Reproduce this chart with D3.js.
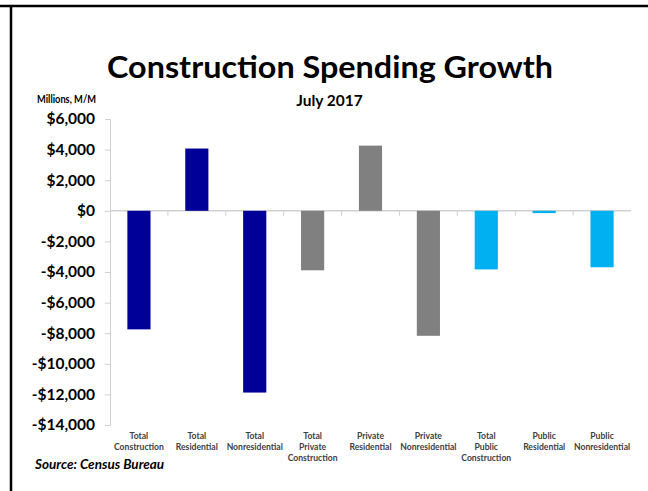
<!DOCTYPE html>
<html><head><meta charset="utf-8">
<script src="https://cdn.jsdelivr.net/npm/d3@7"></script>
<style>body{margin:0;background:#fff}svg{display:block}</style>
</head><body>
<script>
const categories = [
  ["Total","Construction"],
  ["Total","Residential"],
  ["Total","Nonresidential"],
  ["Total","Private","Construction"],
  ["Private","Residential"],
  ["Private","Nonresidential"],
  ["Total","Public","Construction"],
  ["Public","Residential"],
  ["Public","Nonresidential"]
];
const values = [-7750, 4070, -11880, -3890, 4260, -8170, -3830, -150, -3690];
const groups = ["total","total","total","private","private","private","public","public","public"];
const groupColors = {total:"#000099", private:"#808080", public:"#00B0F0"};
const yTicks = [6000,4000,2000,0,-2000,-4000,-6000,-8000,-10000,-12000,-14000];

const W=648,H=491;
const svg=d3.select("body").append("svg").attr("width",W).attr("height",H);
const font="Lato, 'Open Sans', sans-serif";

// borders
svg.append("line").attr("x1",0).attr("x2",W).attr("y1",6).attr("y2",6).attr("stroke","#000").attr("stroke-width",2.5);
svg.append("line").attr("x1",11).attr("x2",11).attr("y1",6).attr("y2",H).attr("stroke","#000").attr("stroke-width",2.5);

const x=d3.scaleBand().domain(d3.range(categories.length)).range([110,631]).paddingInner(0.6).paddingOuter(0.3);
const y=d3.scaleLinear().domain([-14000,6000]).range([425,119]);

// y axis
const fmt=v=>(v<0?"-":"")+"$"+d3.format(",")(Math.abs(v));
const ya=svg.append("g").attr("transform","translate(110,0)")
  .call(d3.axisLeft(y).tickValues(yTicks).tickFormat(fmt).tickSize(5).tickPadding(10));
ya.select(".domain").attr("stroke","#d0d0d0").attr("d","M-5,119.5H0.5V425.5H-5");
ya.selectAll(".tick line").attr("stroke","#d0d0d0");
ya.selectAll(".tick text").attr("font-family",font).attr("font-weight","bold").attr("font-size",15.5).attr("fill","#000");

// zero line with ticks
const xBand=d3.scaleLinear().domain([0,categories.length]).range([110,631]);
svg.append("line").attr("x1",110).attr("x2",631).attr("y1",y(0)).attr("y2",y(0)).attr("stroke","#d0d0d0").attr("stroke-width",1.5);
svg.selectAll(".zt").data(d3.range(1,categories.length)).enter().append("line")
  .attr("x1",d=>xBand(d)).attr("x2",d=>xBand(d)).attr("y1",y(0)).attr("y2",y(0)+5).attr("stroke","#d0d0d0");

// bars
svg.selectAll(".bar").data(values).enter().append("rect")
  .attr("x",(d,i)=>x(i)).attr("width",x.bandwidth())
  .attr("y",d=>y(Math.max(0,d))).attr("height",d=>Math.abs(y(d)-y(0)))
  .attr("fill",(d,i)=>groupColors[groups[i]]);

// category labels
categories.forEach((lines,i)=>{
  const cx=xBand(i+0.5);
  const t=svg.append("text").attr("x",cx).attr("y",439).attr("text-anchor","middle")
    .attr("font-family",font).attr("font-weight","bold").attr("font-size",8.6).attr("fill","#404040");
  lines.forEach((l,j)=>t.append("tspan").attr("x",cx).attr("dy",j?10.8:0).text(l));
});

// titles
svg.append("text").attr("x",330).attr("y",78).attr("text-anchor","middle")
  .attr("font-family",font).attr("font-weight","bold").attr("font-size",31).attr("fill","#000")
  .attr("textLength",446).attr("lengthAdjust","spacingAndGlyphs").text("Construction Spending Growth");
svg.append("text").attr("x",37).attr("y",103)
  .attr("font-family",font).attr("font-weight","bold").attr("font-size",10.5).attr("fill","#000")
  .attr("textLength",59).attr("lengthAdjust","spacingAndGlyphs").text("Millions, M/M");
svg.append("text").attr("x",329.5).attr("y",106).attr("text-anchor","middle")
  .attr("font-family",font).attr("font-weight","bold").attr("font-size",15.5).attr("fill","#000")
  .text("July 2017");
svg.append("text").attr("x",35).attr("y",469)
  .attr("font-family",font).attr("font-weight","bold").attr("font-style","italic").attr("font-size",13.5).attr("fill","#000")
  .text("Source: Census Bureau");
</script>
</body></html>
